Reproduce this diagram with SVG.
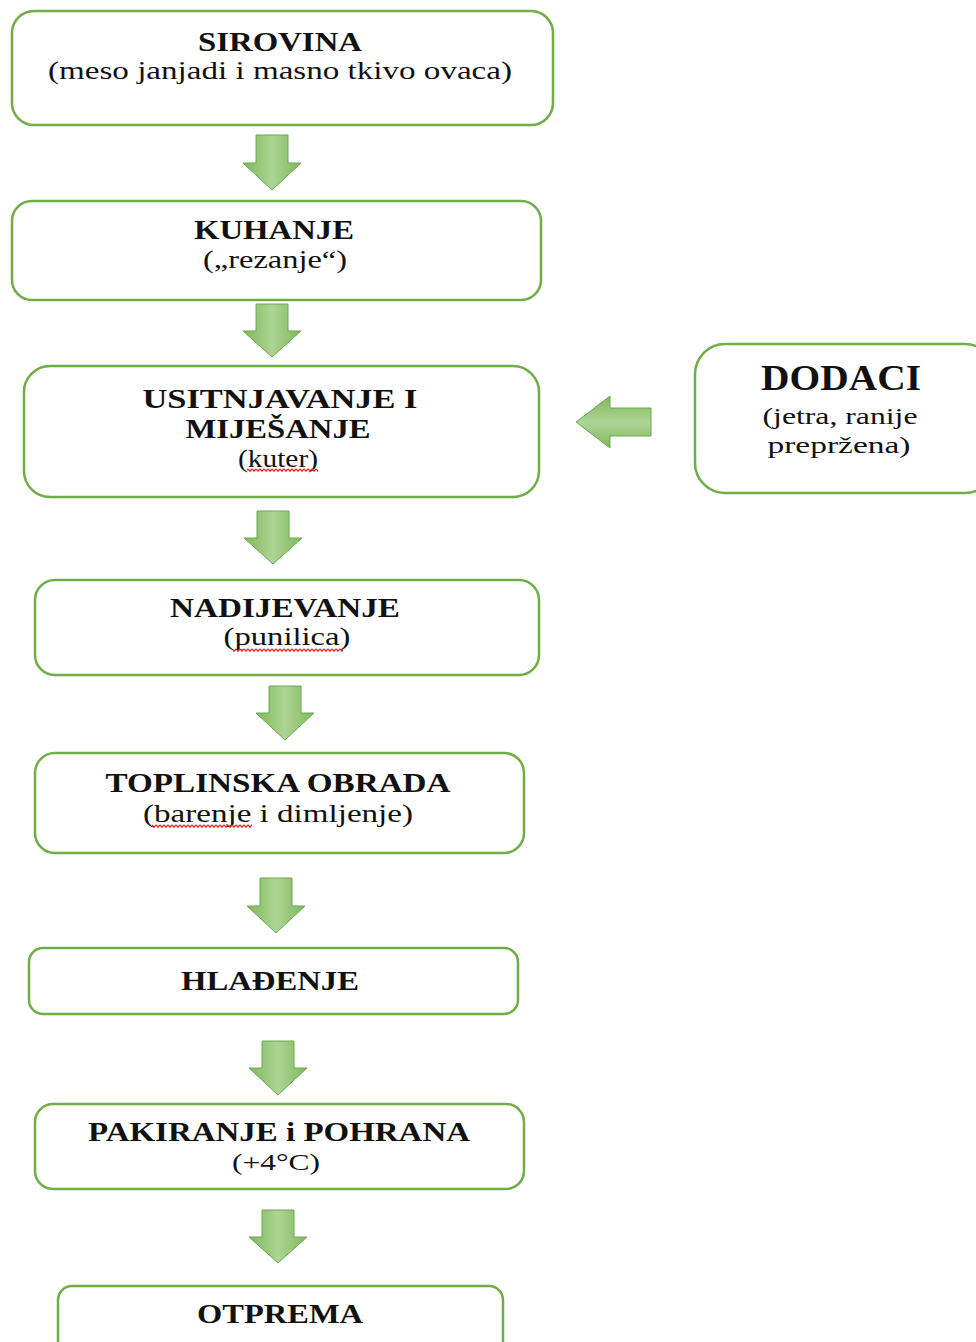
<svg xmlns="http://www.w3.org/2000/svg" width="976" height="1342" viewBox="0 0 976 1342">
<style>
.box{fill:#ffffff;stroke:#70ad47;stroke-width:2.5}
.arr{fill:url(#ag);stroke:#6aa84f;stroke-width:1}
.arrh{fill:url(#agh);stroke:#6aa84f;stroke-width:1}
.t{font-family:"Liberation Serif","Times New Roman",serif;font-weight:bold;font-size:28px;fill:#111;text-anchor:middle}
.s{font-family:"Liberation Serif","Times New Roman",serif;font-size:26px;fill:#111;text-anchor:middle}
</style>
<defs>
<linearGradient id="ag" x1="0" y1="0" x2="1" y2="0">
<stop offset="0" stop-color="#7fb95a"/>
<stop offset="0.5" stop-color="#add495"/>
<stop offset="1" stop-color="#7fb95a"/>
</linearGradient>
<linearGradient id="agh" x1="0" y1="0" x2="0" y2="1">
<stop offset="0" stop-color="#7fb95a"/>
<stop offset="0.5" stop-color="#add495"/>
<stop offset="1" stop-color="#7fb95a"/>
</linearGradient>
<pattern id="squig" width="4" height="4" patternUnits="userSpaceOnUse">
<path d="M0 0.8 L2 3.2 L4 0.8" fill="none" stroke="#e02020" stroke-width="1.3"/>
</pattern>
</defs>

<g id="connectors">
<path class="arr" d="M256 135 H288 V163 H301 L272 190 L243 163 H256 Z"/>
<path class="arr" d="M256 304 H288 V331 H301 L272 357 L243 331 H256 Z"/>
<path class="arr" d="M257 511 H289 V538 H302 L273 564 L244 538 H257 Z"/>
<path class="arr" d="M269 686 H301 V713 H314 L285 740 L256 713 H269 Z"/>
<path class="arr" d="M260 878 H292 V906 H305 L276 933 L247 906 H260 Z"/>
<path class="arr" d="M262 1041 H294 V1068 H307 L278 1095 L249 1068 H262 Z"/>
<path class="arr" d="M262 1210 H294 V1237 H307 L278 1263 L249 1237 H262 Z"/>
<path class="arrh" d="M651 408 V436 H610 V448 L576 422 L610 396 V408 Z"/>
</g>

<g id="sirovina">
<rect class="box" x="12" y="11" width="541" height="114" rx="22"/>
<text class="t" x="280" y="51" textLength="164" lengthAdjust="spacingAndGlyphs">SIROVINA</text>
<text class="s" x="280" y="79" textLength="464" lengthAdjust="spacingAndGlyphs">(meso janjadi i masno tkivo ovaca)</text>
</g>

<g id="kuhanje">
<rect class="box" x="12" y="201" width="529" height="99" rx="20"/>
<text class="t" x="274" y="239" textLength="160" lengthAdjust="spacingAndGlyphs">KUHANJE</text>
<text class="s" x="275" y="268" textLength="144" lengthAdjust="spacingAndGlyphs">(„rezanje“)</text>
</g>

<g id="usitnjavanje">
<rect class="box" x="24" y="366" width="515" height="131" rx="26"/>
<text class="t" x="280" y="408" textLength="275" lengthAdjust="spacingAndGlyphs">USITNJAVANJE I</text>
<text class="t" x="278" y="438" textLength="185" lengthAdjust="spacingAndGlyphs">MIJEŠANJE</text>
<text class="s" x="278" y="467" textLength="80" lengthAdjust="spacingAndGlyphs">(kuter)</text>
<rect x="247" y="468" width="71" height="4" fill="url(#squig)"/>
</g>

<g id="dodaci">
<rect class="box" x="695" y="344" width="300" height="149" rx="30"/>
<text class="t" x="841" y="390" style="font-size:35px" textLength="160" lengthAdjust="spacingAndGlyphs">DODACI</text>
<text class="s" x="840" y="424" style="font-size:24px" textLength="155" lengthAdjust="spacingAndGlyphs">(jetra, ranije</text>
<text class="s" x="839" y="453" style="font-size:24px" textLength="143" lengthAdjust="spacingAndGlyphs">prepržena)</text>
</g>

<g id="nadijevanje">
<rect class="box" x="35" y="580" width="504" height="95" rx="20"/>
<text class="t" x="285" y="617" textLength="230" lengthAdjust="spacingAndGlyphs">NADIJEVANJE</text>
<text class="s" x="287" y="645" textLength="127" lengthAdjust="spacingAndGlyphs">(punilica)</text>
<rect x="233" y="648" width="110" height="4" fill="url(#squig)"/>
</g>

<g id="toplinska">
<rect class="box" x="35" y="753" width="489" height="100" rx="20"/>
<text class="t" x="278" y="792" textLength="345" lengthAdjust="spacingAndGlyphs">TOPLINSKA OBRADA</text>
<text class="s" x="278" y="822" textLength="270" lengthAdjust="spacingAndGlyphs">(barenje i dimljenje)</text>
<rect x="152" y="824" width="100" height="4" fill="url(#squig)"/>
</g>

<g id="hladenje">
<rect class="box" x="29" y="948" width="489" height="66" rx="14"/>
<text class="t" x="270" y="990" textLength="178" lengthAdjust="spacingAndGlyphs">HLAĐENJE</text>
</g>

<g id="pakiranje">
<rect class="box" x="35" y="1104" width="489" height="85" rx="18"/>
<text class="t" x="279" y="1141" textLength="382" lengthAdjust="spacingAndGlyphs">PAKIRANJE i POHRANA</text>
<text class="s" x="276" y="1170" style="font-size:24px" textLength="88" lengthAdjust="spacingAndGlyphs">(+4°C)</text>
</g>

<g id="otprema">
<rect class="box" x="58" y="1286" width="445" height="80" rx="14"/>
<text class="t" x="280" y="1323" textLength="166" lengthAdjust="spacingAndGlyphs">OTPREMA</text>
</g>
</svg>
